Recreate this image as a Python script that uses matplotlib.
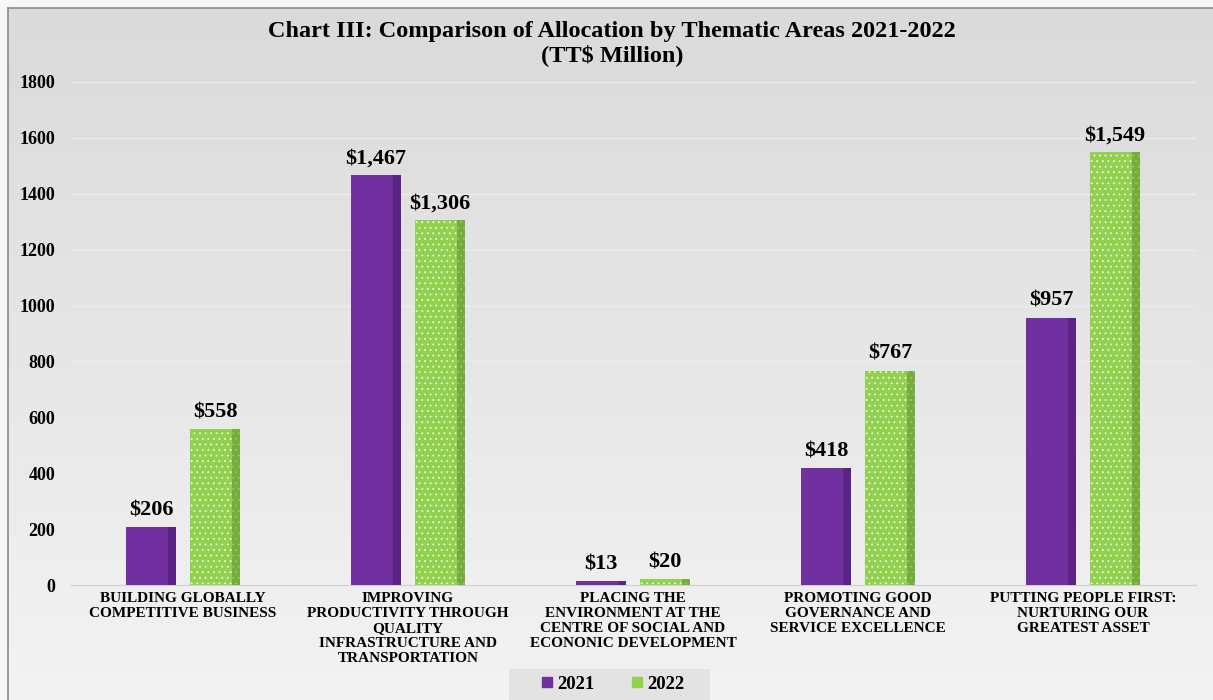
import numpy as np
import matplotlib.pyplot as plt
from matplotlib.colors import LinearSegmentedColormap
from matplotlib.patches import Rectangle
from matplotlib.lines import Line2D

categories = ["BUILDING GLOBALLY\nCOMPETITIVE BUSINESS",
              "IMPROVING\nPRODUCTIVITY THROUGH\nQUALITY\nINFRASTRUCTURE AND\nTRANSPORTATION",
              "PLACING THE\nENVIRONMENT AT THE\nCENTRE OF SOCIAL AND\nECONONIC DEVELOPMENT",
              "PROMOTING GOOD\nGOVERNANCE AND\nSERVICE EXCELLENCE",
              "PUTTING PEOPLE FIRST:\nNURTURING OUR\nGREATEST ASSET"]
alloc_2021 = [206, 1467, 13, 418, 957]
alloc_2022 = [558, 1306, 20, 767, 1549]
years = ["2021", "2022"]
yticks = [0, 200, 400, 600, 800, 1000, 1200, 1400, 1600, 1800]

plt.rcParams['font.family'] = ['Liberation Serif', 'DejaVu Serif']
plt.rcParams['font.weight'] = 'bold'
plt.rcParams['hatch.linewidth'] = 0.6

fig = plt.figure(figsize=(12.13, 7), dpi=100)
fig.patch.set_facecolor('#f7f7f7')

# background frame with vertical gradient
bg = fig.add_axes([8/1213, 0, 1 - 8/1213, 1 - 8/700], zorder=-10)
grad = np.linspace(0, 1, 256).reshape(-1, 1)
bg.imshow(grad, aspect='auto', cmap=LinearSegmentedColormap.from_list('g', ['#dadada', '#f3f3f3']),
          extent=[0, 1, 0, 1], origin='upper')
bg.set_xticks([]); bg.set_yticks([])
for s in ['right', 'bottom']:
    bg.spines[s].set_visible(False)
for s in ['left', 'top']:
    bg.spines[s].set_color('#8a8a8a')
    bg.spines[s].set_linewidth(1.2)

# legend backdrop
fig.patches.append(Rectangle((509/1213, 0), 201/1213, 31/700, transform=fig.transFigure,
                             facecolor='#e3e3e3', edgecolor='none', zorder=-5))

ax = fig.add_axes([70.5/1213, 1 - 585/700, 1125/1213, 503/700])
ax.patch.set_alpha(0)

x = np.arange(len(categories))
w = 0.222
off = 0.142
c2021, c2022 = '#7030a0', '#92d050'
b1 = ax.bar(x - off, alloc_2021, w, color=c2021, zorder=3)
b2 = ax.bar(x + off, alloc_2022, w, color=c2022, zorder=3,
            hatch='...', edgecolor='#eef8e2', linewidth=0)
# darker shading at the right edge of each bar
ax.bar(x - off + w * 0.42, alloc_2021, w * 0.16, color='#4a1a70', alpha=0.55, zorder=4, linewidth=0)
ax.bar(x + off + w * 0.42, alloc_2022, w * 0.16, color='#5f8f2c', alpha=0.55, zorder=4, linewidth=0)

for rects, vals in ((b1, alloc_2021), (b2, alloc_2022)):
    for r, v in zip(rects, vals):
        ax.annotate(f"${v:,}", (r.get_x() + r.get_width() / 2, v), xytext=(0, 5),
                    textcoords='offset points', ha='center', va='bottom',
                    fontsize=16, fontweight='bold', zorder=5)

ax.set_xlim(-0.5, len(categories) - 0.5)
ax.set_ylim(0, 1800)
ax.set_yticks(yticks)
ax.set_yticklabels([str(t) for t in yticks], fontsize=13, fontweight='bold')
ax.set_xticks(x)
ax.set_xticklabels(categories, fontsize=11, fontweight='bold', linespacing=1.2)
ax.tick_params(axis='both', length=0)
ax.tick_params(axis='y', pad=11)
ax.tick_params(axis='x', pad=5)
ax.grid(axis='y', color='#ececec', linewidth=1, zorder=0)
for s in ['top', 'right', 'left']:
    ax.spines[s].set_visible(False)
ax.spines['bottom'].set_color('#d0d0d0')

fig.text(612/1213, 1 - 31/700, "Chart III: Comparison of Allocation by Thematic Areas 2021-2022",
         ha='center', va='center', fontsize=17.5, fontweight='bold')
fig.text(612/1213, 1 - 55/700, "(TT$ Million)", ha='center', va='center',
         fontsize=17.5, fontweight='bold')

handles = [Line2D([], [], marker='s', linestyle='', color=c, markersize=6.5) for c in (c2021, c2022)]
ax.legend(handles, years, loc='center', bbox_to_anchor=(613/1213, 1 - 684/700),
          bbox_transform=fig.transFigure, ncol=2, frameon=False,
          handlelength=0.5, handletextpad=0.3, columnspacing=2.0,
          borderpad=0.2, borderaxespad=0,
          prop={'weight': 'bold', 'size': 13.5, 'family': 'Liberation Serif'})

fig.savefig('out.png', dpi=100, facecolor=fig.get_facecolor())
